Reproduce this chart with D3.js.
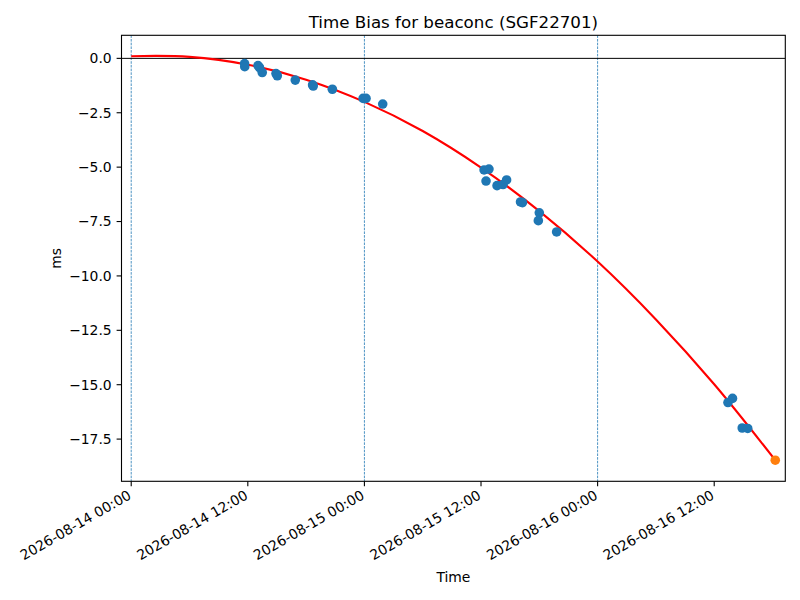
<!DOCTYPE html>
<html>
<head>
<meta charset="utf-8">
<script src="https://cdn.jsdelivr.net/npm/d3@7"></script>
<style>
  body { margin: 0; background: #fff; }
  text { font-family: "DejaVu Sans", sans-serif; fill: #000; }
</style>
</head>
<body>
<svg id="chart" width="800" height="600"></svg>
<script>
// measured offsets (UTC) of the blue samples, and their bias in ms
var sampleTimes = [
  "2026-08-14T11:40", "2026-08-14T11:41", "2026-08-14T13:03", "2026-08-14T13:12",
  "2026-08-14T13:29", "2026-08-14T14:54", "2026-08-14T15:02", "2026-08-14T16:53",
  "2026-08-14T18:40", "2026-08-14T18:44", "2026-08-14T20:42", "2026-08-14T23:52",
  "2026-08-15T00:10", "2026-08-15T01:53", "2026-08-15T12:19", "2026-08-15T12:49",
  "2026-08-15T12:31", "2026-08-15T13:39", "2026-08-15T14:16", "2026-08-15T14:38",
  "2026-08-15T16:04", "2026-08-15T16:16", "2026-08-15T18:00", "2026-08-15T17:54",
  "2026-08-15T19:47", "2026-08-16T13:25", "2026-08-16T13:53", "2026-08-16T14:53",
  "2026-08-16T15:27"
];
var sampleBias = [
  -0.24, -0.38, -0.33, -0.42,
  -0.65, -0.70, -0.80, -1.00,
  -1.22, -1.27, -1.42, -1.84,
  -1.84, -2.10, -5.13, -5.09,
  -5.64, -5.85, -5.80, -5.59,
  -6.60, -6.63, -7.10, -7.46,
  -7.98, -15.82, -15.63, -16.99,
  -17.01
];

// the last (orange) point
var lastTime = "2026-08-16T18:17";
var lastBias = -18.47;

// red fit curve
var fitTimes = [
  "2026-08-14T00:00", "2026-08-14T06:00", "2026-08-14T12:00", "2026-08-14T18:00",
  "2026-08-15T00:00", "2026-08-15T06:00", "2026-08-15T12:00", "2026-08-15T18:00",
  "2026-08-16T00:00", "2026-08-16T06:00", "2026-08-16T12:00", "2026-08-16T18:17"
];
var fitBias = [
  0.10, 0.07, -0.29, -0.98,
  -2.00, -3.34, -5.02, -7.02,
  -9.34, -12.00, -14.98, -18.47
];

// dashed vertical markers at midnight
var midnights = ["2026-08-14T00:00", "2026-08-15T00:00", "2026-08-16T00:00"];

var xTicks = [
  "2026-08-14T00:00", "2026-08-14T12:00", "2026-08-15T00:00",
  "2026-08-15T12:00", "2026-08-16T00:00", "2026-08-16T12:00"
];
var yTicks = [0, -2.5, -5, -7.5, -10, -12.5, -15, -17.5];

var parse = d3.utcParse("%Y-%m-%dT%H:%M");
var fmt = d3.utcFormat("%Y-%m-%d %H:%M");

// plot box (window.top is reserved, so use other names)
var padL = 121.5, padR = 785.3, padT = 35.3, padB = 481.3;
var tickLen = 4.9;
var dotR = 4.8;

var svg = d3.select("#chart");

var x = d3.scaleUtc()
  .domain([parse("2026-08-13T23:00"), parse("2026-08-16T19:19")])
  .range([padL, padR]);
var y = d3.scaleLinear()
  .domain([-19.44, 1.06])
  .range([padB, padT]);

svg.append("defs").append("clipPath").attr("id", "clip")
  .append("rect")
  .attr("x", padL).attr("y", padT)
  .attr("width", padR - padL).attr("height", padB - padT);

var plot = svg.append("g").attr("clip-path", "url(#clip)");

// vertical dashed lines
plot.selectAll("line.vl")
  .data(midnights)
  .enter().append("line")
  .attr("class", "vl")
  .attr("x1", function(d) { return x(parse(d)); })
  .attr("x2", function(d) { return x(parse(d)); })
  .attr("y1", padT).attr("y2", padB)
  .attr("stroke", "#1f77b4")
  .attr("stroke-width", 0.8)
  .attr("stroke-dasharray", "2.6,1.1");

// zero line
plot.append("line")
  .attr("x1", padL).attr("x2", padR)
  .attr("y1", y(0)).attr("y2", y(0))
  .attr("stroke", "#000")
  .attr("stroke-width", 1);

// fit curve
var fitData = fitTimes.map(function(t, i) { return [parse(t), fitBias[i]]; });
plot.append("path")
  .datum(fitData)
  .attr("fill", "none")
  .attr("stroke", "#ff0000")
  .attr("stroke-width", 2.1)
  .attr("d", d3.line()
    .x(function(d) { return x(d[0]); })
    .y(function(d) { return y(d[1]); })
    .curve(d3.curveCatmullRom));

// samples
plot.selectAll("circle.s")
  .data(sampleTimes)
  .enter().append("circle")
  .attr("class", "s")
  .attr("cx", function(d) { return x(parse(d)); })
  .attr("cy", function(d, i) { return y(sampleBias[i]); })
  .attr("r", dotR)
  .attr("fill", "#1f77b4");

plot.append("circle")
  .attr("cx", x(parse(lastTime)))
  .attr("cy", y(lastBias))
  .attr("r", dotR)
  .attr("fill", "#ff7f0e");

// frame
svg.append("rect")
  .attr("x", padL).attr("y", padT)
  .attr("width", padR - padL).attr("height", padB - padT)
  .attr("fill", "none")
  .attr("stroke", "#000")
  .attr("stroke-width", 1.1);

// x ticks
var xt = svg.selectAll("g.xt")
  .data(xTicks)
  .enter().append("g")
  .attr("class", "xt")
  .attr("transform", function(d) { return "translate(" + x(parse(d)) + "," + padB + ")"; });
xt.append("line")
  .attr("y2", tickLen)
  .attr("stroke", "#000")
  .attr("stroke-width", 1.1);
xt.append("text")
  .attr("transform", "translate(-4,8) rotate(-30)")
  .attr("text-anchor", "end")
  .attr("dy", "0.72em")
  .style("font-size", "13.9px")
  .text(function(d) { return fmt(parse(d)); });

// y ticks
var yt = svg.selectAll("g.yt")
  .data(yTicks)
  .enter().append("g")
  .attr("class", "yt")
  .attr("transform", function(d) { return "translate(" + padL + "," + y(d) + ")"; });
yt.append("line")
  .attr("x2", -tickLen)
  .attr("stroke", "#000")
  .attr("stroke-width", 1.1);
yt.append("text")
  .attr("x", -9.8)
  .attr("dy", "0.35em")
  .attr("text-anchor", "end")
  .style("font-size", "13.9px")
  .text(function(d) { return d3.format(".1f")(d).replace("-", "\u2212"); });

// labels
svg.append("text")
  .attr("x", (padL + padR) / 2)
  .attr("y", 28)
  .attr("text-anchor", "middle")
  .style("font-size", "16.7px")
  .text("Time Bias for beaconc (SGF22701)");

svg.append("text")
  .attr("x", (padL + padR) / 2)
  .attr("y", 582)
  .attr("text-anchor", "middle")
  .style("font-size", "13.9px")
  .text("Time");

svg.append("text")
  .attr("transform", "translate(61," + ((padT + padB) / 2) + ") rotate(-90)")
  .attr("text-anchor", "middle")
  .style("font-size", "13.9px")
  .text("ms");
</script>
</body>
</html>
